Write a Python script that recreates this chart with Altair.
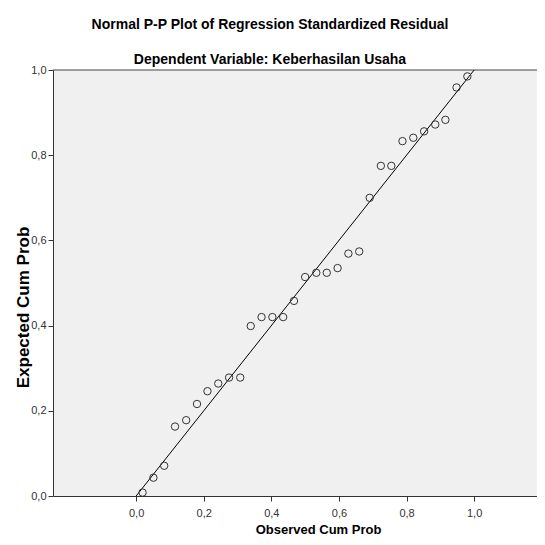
import altair as alt
import pandas as pd

# Values
observed = [0.019, 0.051, 0.083, 0.115, 0.148, 0.180, 0.211, 0.243, 0.275, 0.308,
            0.339, 0.371, 0.403, 0.435, 0.467, 0.500, 0.533, 0.564, 0.596, 0.628,
            0.660, 0.691, 0.724, 0.755, 0.788, 0.820, 0.852, 0.885, 0.915, 0.948, 0.980]
expected = [0.008, 0.043, 0.071, 0.163, 0.178, 0.216, 0.246, 0.264, 0.278, 0.278,
            0.399, 0.420, 0.420, 0.420, 0.458, 0.514, 0.524, 0.524, 0.535, 0.569,
            0.574, 0.700, 0.775, 0.775, 0.833, 0.841, 0.856, 0.872, 0.883, 0.959, 0.985]
ref_line = [0.0, 1.0]
x_ticks = [0.0, 0.2, 0.4, 0.6, 0.8, 1.0]
y_ticks = [0.0, 0.2, 0.4, 0.6, 0.8, 1.0]
top_border = [1.0]

pts = pd.DataFrame({"observed": observed, "expected": expected})
ln = pd.DataFrame({"observed": ref_line, "expected": ref_line})
top = pd.DataFrame({"expected": top_border})

label_expr = "replace(format(datum.value, '.1f'), '.', ',')"
FONT = "Liberation Sans"

xscale = alt.Scale(domain=[-0.246, 1.186], nice=False, zero=False)
yscale = alt.Scale(domain=[0, 1], nice=False, zero=False)

x_axis = alt.Axis(values=x_ticks, labelExpr=label_expr, title="Observed Cum Prob",
                  grid=False, tickSize=5, labelPadding=6,
                  titleFontSize=13, titleFontWeight="bold",
                  titleX=265, titleY=33, titleBaseline="middle", titleAlign="center")
y_axis = alt.Axis(values=y_ticks, labelExpr=label_expr, title="Expected Cum Prob",
                  grid=False, tickSize=5, labelPadding=2,
                  titleFontSize=17, titleFontWeight="bold",
                  titleX=-30, titleY=237, titleBaseline="middle", titleAlign="center",
                  titleAngle=270)

border = alt.Chart(top).mark_rule(color="#444444", strokeWidth=1).encode(
    y=alt.Y("expected:Q", scale=yscale, axis=y_axis),
)

line = alt.Chart(ln).mark_line(color="#000000", strokeWidth=1).encode(
    x=alt.X("observed:Q", scale=xscale, axis=x_axis),
    y=alt.Y("expected:Q", scale=yscale, axis=y_axis),
)

points = alt.Chart(pts).mark_point(shape="circle", filled=False, size=55,
                                   stroke="#333333", strokeWidth=1, opacity=1).encode(
    x=alt.X("observed:Q", scale=xscale, axis=x_axis),
    y=alt.Y("expected:Q", scale=yscale, axis=y_axis),
)

chart = alt.layer(border, line, points).properties(
    width=484,
    height=426,
    autosize=alt.AutoSizeParams(type="none"),
    padding={"left": 45, "top": 62, "right": 0, "bottom": 41},
    title=alt.TitleParams(
        text="Normal P-P Plot of Regression Standardized Residual",
        subtitle="Dependent Variable: Keberhasilan Usaha",
        anchor="middle", dx=-25, offset=-3, subtitlePadding=21,
        font=FONT, fontSize=14, fontWeight="bold", color="#000000",
        subtitleFont=FONT, subtitleFontSize=14, subtitleFontWeight="bold",
        subtitleColor="#000000",
    ),
).configure_view(
    fill="#f0f0f0", stroke="transparent", strokeWidth=0
).configure_axis(
    domainColor="#333333", tickColor="#333333", labelColor="#333333",
    labelFont=FONT, labelFontSize=11, titleFont=FONT, titleColor="#000000",
)

chart.save("out.html", embed_options={"renderer": "svg", "actions": False})
